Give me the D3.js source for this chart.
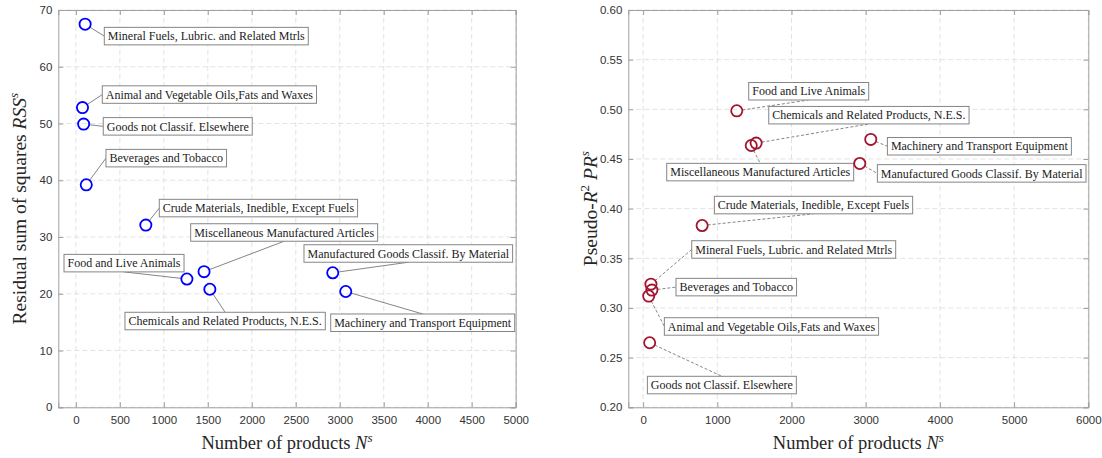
<!DOCTYPE html>
<html>
<head>
<meta charset="utf-8">
<script src="https://cdn.jsdelivr.net/npm/d3@7"></script>
<style>
  body { margin: 0; background: #fff; }
  .tick-label { font: 11.5px "Liberation Sans", Arial, sans-serif; fill: #333; }
  .ann { font: 12px "Liberation Serif", "Times New Roman", serif; fill: #222; }
  .axis-title { font: 18.5px "Liberation Serif", "Times New Roman", serif; fill: #262626; }
  .y-title { font-size: 19.5px; }
</style>
</head>
<body>
<svg id="chart" width="1102" height="458"></svg>
<script>
// SITC sections
const categories = [
  "Food and Live Animals",
  "Beverages and Tobacco",
  "Crude Materials, Inedible, Except Fuels",
  "Mineral Fuels, Lubric. and Related Mtrls",
  "Animal and Vegetable Oils,Fats and Waxes",
  "Chemicals and Related Products, N.E.S.",
  "Manufactured Goods Classif. By Material",
  "Machinery and Transport Equipment",
  "Miscellaneous Manufactured Articles",
  "Goods not Classif. Elsewhere",
];
const nProducts = [1262, 118, 795, 105, 75, 1523, 2920, 3068, 1457, 88];
const rss = [22.6, 39.2, 32.1, 67.5, 52.8, 20.8, 23.7, 20.4, 23.9, 49.9];
const pseudoR2 = [0.4985, 0.318, 0.383, 0.324, 0.312, 0.466, 0.4455, 0.4697, 0.4636, 0.265];

const leftXTicks = d3.range(0, 5001, 500);
const leftYTicks = d3.range(0, 71, 10);
const rightXTicks = d3.range(0, 6001, 1000);
const rightYTicks = [0.2, 0.25, 0.3, 0.35, 0.4, 0.45, 0.5, 0.55, 0.6];

// label placement: box left edge (x, data units), box middle (y, data units), leader side
const leftLabelX = [-135, 342, 948, 323, 300, 558, 2593, 2897, 1305, 311];
const leftLabelY = [25.4, 43.9, 35.1, 65.4, 55.1, 15.2, 27.1, 14.9, 30.8, 49.5];
const leftLabelSide = ["bottom", "left", "left", "left", "left", "top", "bottom", "top", "bottom", "left"];

const rightLabelX = [1423, 443, 960, 655, 286, 1693, 3157, 3292, 318, 57];
const rightLabelY = [0.5182, 0.321, 0.4036, 0.3589, 0.2814, 0.4941, 0.4355, 0.4628, 0.4368, 0.2224];
const rightLabelSide = ["bottom", "left", "bottom", "left", "left", "bottom", "left", "left", "top", "top"];

const svg = d3.select("#chart");

function drawPanel(opt) {
  const { x0, x1, y0, y1 } = opt;
  const x = d3.scaleLinear().domain(opt.xDomain).range([x0, x1]);
  const y = d3.scaleLinear().domain(opt.yDomain).range([y1, y0]);
  const g = svg.append("g");

  // grid
  g.append("g").selectAll("line").data(opt.xTicks).join("line")
    .attr("x1", d => x(d)).attr("x2", d => x(d))
    .attr("y1", y0).attr("y2", y1)
    .attr("stroke", "#e2e2e2").attr("stroke-dasharray", "5,3");
  g.append("g").selectAll("line").data(opt.yTicks).join("line")
    .attr("y1", d => y(d)).attr("y2", d => y(d))
    .attr("x1", x0).attr("x2", x1)
    .attr("stroke", "#e2e2e2").attr("stroke-dasharray", "5,3");

  // axes (box with ticks inside on all sides)
  const tk = 5;
  g.append("g").attr("transform", `translate(0,${y1})`)
    .call(d3.axisBottom(x).tickValues(opt.xTicks).tickSize(-tk).tickPadding(9).tickFormat(d3.format("d")));
  g.append("g").attr("transform", `translate(0,${y0})`)
    .call(d3.axisTop(x).tickValues(opt.xTicks).tickSize(-tk).tickFormat(""));
  g.append("g").attr("transform", `translate(${x0},0)`)
    .call(d3.axisLeft(y).tickValues(opt.yTicks).tickSize(-tk).tickPadding(6).tickFormat(opt.yFormat));
  g.append("g").attr("transform", `translate(${x1},0)`)
    .call(d3.axisRight(y).tickValues(opt.yTicks).tickSize(-tk).tickFormat(""));
  g.selectAll(".domain").attr("stroke", "#a0a0a0");
  g.selectAll(".tick line").attr("stroke", "#a0a0a0");
  g.selectAll(".tick text").attr("class", "tick-label").attr("font-size", null).attr("font-family", null).attr("fill", null);

  // points
  const pts = categories.map((c, i) => ({
    name: c, px: x(nProducts[i]), py: y(opt.values[i]),
    bx: x(opt.labelX[i]), by: y(opt.labelY[i]), side: opt.labelSide[i],
  }));

  const gLead = g.append("g");
  const gBox = g.append("g");
  const gDot = g.append("g");
  const r = 5.6;

  pts.forEach(d => {
    const t = gBox.append("text").attr("class", "ann")
      .attr("x", d.bx + 3.5).attr("y", d.by).attr("dy", "0.35em").text(d.name);
    const w = t.node().getComputedTextLength() + 7;
    const h = 17.5;
    gBox.insert("rect", "text:last-child")
      .attr("x", d.bx).attr("y", d.by - h / 2).attr("width", w).attr("height", h)
      .attr("fill", "#fff").attr("stroke", "#858585").attr("stroke-width", 1);
    t.raise();
    let ex, ey;
    if (d.side === "left") { ex = d.bx; ey = d.by; }
    else if (d.side === "bottom") { ex = d.bx + w / 2; ey = d.by + h / 2; }
    else { ex = d.bx + w / 2; ey = d.by - h / 2; }
    const len = Math.hypot(ex - d.px, ey - d.py) || 1;
    gLead.append("line")
      .attr("x1", d.px + (ex - d.px) / len * r).attr("y1", d.py + (ey - d.py) / len * r)
      .attr("x2", ex).attr("y2", ey)
      .attr("stroke", "#666").attr("stroke-width", 0.8)
      .attr("stroke-dasharray", opt.dashed ? "3,2" : null);
  });

  gDot.selectAll("circle").data(pts).join("circle")
    .attr("cx", d => d.px).attr("cy", d => d.py).attr("r", r)
    .attr("fill", "none").attr("stroke", opt.color).attr("stroke-width", 1.8);

  // axis titles
  const xt = g.append("text").attr("class", "axis-title")
    .attr("x", (x0 + x1) / 2).attr("y", 449).attr("text-anchor", "middle");
  xt.append("tspan").text("Number of products ");
  xt.append("tspan").attr("font-style", "italic").text("N");
  xt.append("tspan").attr("font-style", "italic").attr("font-size", 13).attr("dy", -7).text("s");

  const yt = g.append("text").attr("class", "axis-title y-title")
    .attr("transform", `translate(${opt.yTitleX},${(y0 + y1) / 2}) rotate(-90)`)
    .attr("text-anchor", "middle");
  opt.yTitle(yt);
}

drawPanel({
  x0: 58.3, x1: 515.7, y0: 10, y1: 407.3,
  xDomain: [-200, 5000], yDomain: [0, 70],
  xTicks: leftXTicks, yTicks: leftYTicks, yFormat: d3.format("d"),
  values: rss, color: "#0000ff", dashed: false,
  labelX: leftLabelX, labelY: leftLabelY, labelSide: leftLabelSide,
  yTitleX: 26,
  yTitle: t => {
    t.append("tspan").text("Residual sum of squares ");
    t.append("tspan").attr("font-style", "italic").text("RSS");
    t.append("tspan").attr("font-style", "italic").attr("font-size", 13).attr("dy", -8).text("s");
  },
});

drawPanel({
  x0: 628.3, x1: 1088.3, y0: 10, y1: 407.3,
  xDomain: [-200, 6000], yDomain: [0.2, 0.6],
  xTicks: rightXTicks, yTicks: rightYTicks, yFormat: d3.format(".2f"),
  values: pseudoR2, color: "#a2142f", dashed: true,
  labelX: rightLabelX, labelY: rightLabelY, labelSide: rightLabelSide,
  yTitleX: 597,
  yTitle: t => {
    t.append("tspan").text("Pseudo-");
    t.append("tspan").attr("font-style", "italic").text("R");
    t.append("tspan").attr("font-size", 13).attr("dy", -8).text("2");
    t.append("tspan").attr("dy", 8).text(" ");
    t.append("tspan").attr("font-style", "italic").text("PR");
    t.append("tspan").attr("font-style", "italic").attr("font-size", 13).attr("dy", -8).text("s");
  },
});
</script>
</body>
</html>
